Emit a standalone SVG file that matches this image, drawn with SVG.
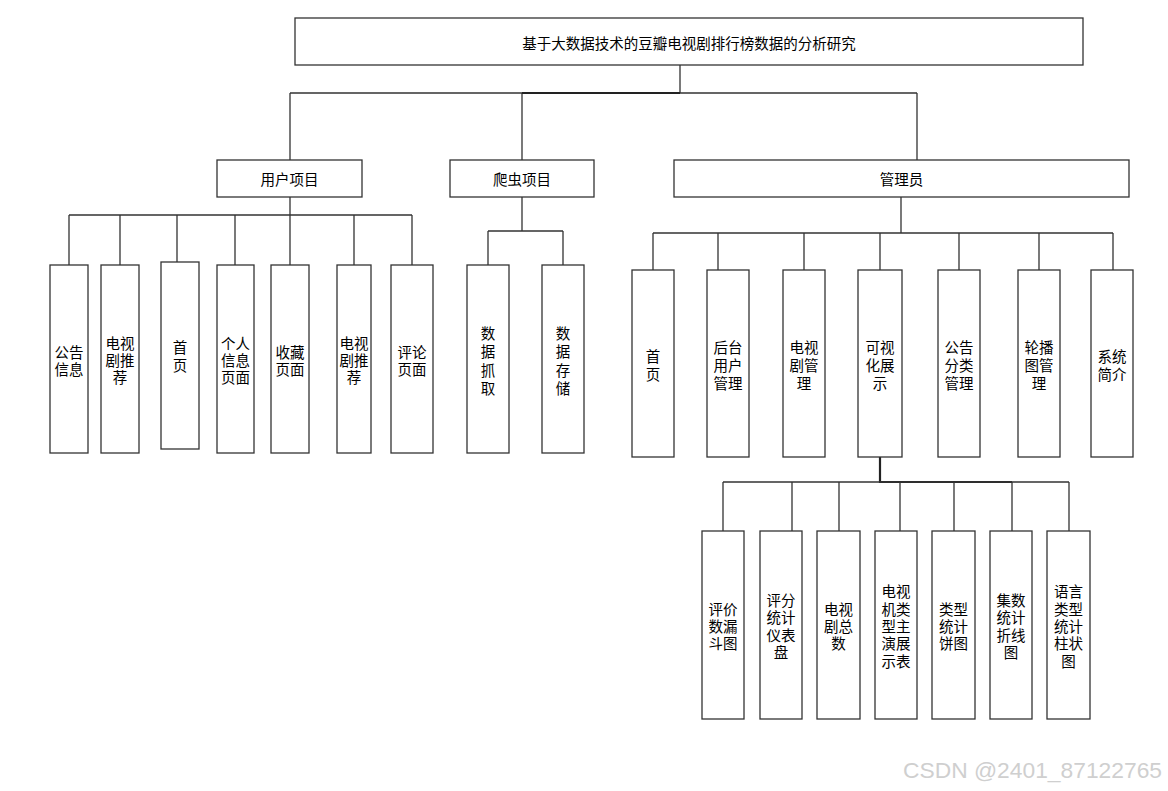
<svg xmlns="http://www.w3.org/2000/svg" width="1168" height="791" viewBox="0 0 1168 791">
<style>
.b{fill:#fff;stroke:#333;stroke-width:1.3}
.c{fill:none;stroke:#333;stroke-width:1.3}
.k{fill:none;stroke:#222;stroke-width:2.2}
.t{font-family:"Noto Sans CJK SC","Microsoft YaHei",sans-serif;font-size:14.5px;fill:#000;text-anchor:middle;dominant-baseline:central}
.w{font-family:"Liberation Sans",Arial,sans-serif;font-size:22px;fill:#cfcfcf}
</style>
<rect width="1168" height="791" fill="#fff"/>
<g id="connectors">
<path class="c" d="M680 65V93M290 93H917M290 93V160M522 93V160M917 93V160"/>
<path class="k" d="M522 93H680"/>
<path class="c" d="M290 197V215M69 215H412M69 215V265M120 215V265M177 215V262M235 215V265M290 215V265M354 215V265M412 215V265"/>
<path class="c" d="M522 197V231M488 231H563M488 231V265M563 231V265"/>
<path class="c" d="M901 197V233M653 233H1113M653 233V270M718 233V270M804 233V270M880 233V270M959 233V270M1039 233V270M1113 233V270"/>
<path class="k" d="M880 457V482H1012"/>
<path class="c" d="M723 482H1069M723 482V531M792 482V531M839 482V531M900 482V531M954 482V531M1012 482V531M1069 482V531"/>
</g>
<g id="root"><rect class="b" x="295" y="18" width="788" height="47"/><text class="t" x="689" y="42">基于大数据技术的豆瓣电视剧排行榜数据的分析研究</text></g>
<g id="user"><rect class="b" x="217" y="160" width="145" height="37"/><text class="t" x="289.5" y="178.5">用户项目</text></g>
<g id="crawler"><rect class="b" x="450" y="160" width="144" height="37"/><text class="t" x="522" y="178.5">爬虫项目</text></g>
<g id="admin"><rect class="b" x="674" y="160" width="455" height="37"/><text class="t" x="901.5" y="178.5">管理员</text></g>

<g id="u1"><rect class="b" x="50" y="265" width="38" height="188"/><text class="t" x="69"><tspan x="69" y="350.5">公告</tspan><tspan x="69" y="367.5">信息</tspan></text></g>
<g id="u2"><rect class="b" x="101" y="265" width="38" height="188"/><text class="t"><tspan x="120" y="342">电视</tspan><tspan x="120" y="359">剧推</tspan><tspan x="120" y="376">荐</tspan></text></g>
<g id="u3"><rect class="b" x="161" y="262" width="38" height="187"/><text class="t"><tspan x="180" y="346">首</tspan><tspan x="180" y="364">页</tspan></text></g>
<g id="u4"><rect class="b" x="217" y="265" width="37" height="188"/><text class="t"><tspan x="235.5" y="342">个人</tspan><tspan x="235.5" y="359">信息</tspan><tspan x="235.5" y="376">页面</tspan></text></g>
<g id="u5"><rect class="b" x="271" y="265" width="38" height="188"/><text class="t"><tspan x="290" y="350.5">收藏</tspan><tspan x="290" y="367.5">页面</tspan></text></g>
<g id="u6"><rect class="b" x="337" y="265" width="34" height="188"/><text class="t"><tspan x="354" y="342">电视</tspan><tspan x="354" y="359">剧推</tspan><tspan x="354" y="376">荐</tspan></text></g>
<g id="u7"><rect class="b" x="391" y="265" width="42" height="188"/><text class="t"><tspan x="412" y="350.5">评论</tspan><tspan x="412" y="367.5">页面</tspan></text></g>

<g id="c1"><rect class="b" x="467" y="265" width="42" height="188"/><text class="t"><tspan x="488" y="332">数</tspan><tspan x="488" y="350.3">据</tspan><tspan x="488" y="368.6">抓</tspan><tspan x="488" y="386.9">取</tspan></text></g>
<g id="c2"><rect class="b" x="542" y="265" width="42" height="188"/><text class="t"><tspan x="563" y="332">数</tspan><tspan x="563" y="350.3">据</tspan><tspan x="563" y="368.6">存</tspan><tspan x="563" y="386.9">储</tspan></text></g>

<g id="a1"><rect class="b" x="632" y="270" width="42" height="187"/><text class="t"><tspan x="653" y="355">首</tspan><tspan x="653" y="373">页</tspan></text></g>
<g id="a2"><rect class="b" x="707" y="270" width="42" height="187"/><text class="t"><tspan x="728" y="346">后台</tspan><tspan x="728" y="364">用户</tspan><tspan x="728" y="382">管理</tspan></text></g>
<g id="a3"><rect class="b" x="783" y="270" width="42" height="187"/><text class="t"><tspan x="804" y="346">电视</tspan><tspan x="804" y="364">剧管</tspan><tspan x="804" y="382">理</tspan></text></g>
<g id="a4"><rect class="b" x="858" y="270" width="44" height="187"/><text class="t"><tspan x="880" y="346">可视</tspan><tspan x="880" y="364">化展</tspan><tspan x="880" y="382">示</tspan></text></g>
<g id="a5"><rect class="b" x="938" y="270" width="42" height="187"/><text class="t"><tspan x="959" y="346">公告</tspan><tspan x="959" y="364">分类</tspan><tspan x="959" y="382">管理</tspan></text></g>
<g id="a6"><rect class="b" x="1018" y="270" width="42" height="187"/><text class="t"><tspan x="1039" y="346">轮播</tspan><tspan x="1039" y="364">图管</tspan><tspan x="1039" y="382">理</tspan></text></g>
<g id="a7"><rect class="b" x="1091" y="270" width="42" height="187"/><text class="t"><tspan x="1112" y="355">系统</tspan><tspan x="1112" y="373">简介</tspan></text></g>

<g id="v1"><rect class="b" x="702" y="531" width="42" height="188"/><text class="t"><tspan x="723" y="607.7">评价</tspan><tspan x="723" y="625">数漏</tspan><tspan x="723" y="642.3">斗图</tspan></text></g>
<g id="v2"><rect class="b" x="760" y="531" width="42" height="188"/><text class="t"><tspan x="781" y="599">评分</tspan><tspan x="781" y="616.3">统计</tspan><tspan x="781" y="633.6">仪表</tspan><tspan x="781" y="651">盘</tspan></text></g>
<g id="v3"><rect class="b" x="817" y="531" width="43" height="188"/><text class="t"><tspan x="838.5" y="607.7">电视</tspan><tspan x="838.5" y="625">剧总</tspan><tspan x="838.5" y="642.3">数</tspan></text></g>
<g id="v4"><rect class="b" x="875" y="531" width="42" height="188"/><text class="t"><tspan x="896" y="590.4">电视</tspan><tspan x="896" y="607.7">机类</tspan><tspan x="896" y="625">型主</tspan><tspan x="896" y="642.3">演展</tspan><tspan x="896" y="659.6">示表</tspan></text></g>
<g id="v5"><rect class="b" x="932" y="531" width="43" height="188"/><text class="t"><tspan x="953.5" y="607.7">类型</tspan><tspan x="953.5" y="625">统计</tspan><tspan x="953.5" y="642.3">饼图</tspan></text></g>
<g id="v6"><rect class="b" x="990" y="531" width="42" height="188"/><text class="t"><tspan x="1011" y="599">集数</tspan><tspan x="1011" y="616.3">统计</tspan><tspan x="1011" y="633.6">折线</tspan><tspan x="1011" y="651">图</tspan></text></g>
<g id="v7"><rect class="b" x="1047" y="531" width="43" height="188"/><text class="t"><tspan x="1068.5" y="590.4">语言</tspan><tspan x="1068.5" y="607.7">类型</tspan><tspan x="1068.5" y="625">统计</tspan><tspan x="1068.5" y="642.3">柱状</tspan><tspan x="1068.5" y="659.6">图</tspan></text></g>

<text class="w" x="903" y="778" textLength="259" lengthAdjust="spacingAndGlyphs">CSDN @2401_87122765</text>
</svg>
